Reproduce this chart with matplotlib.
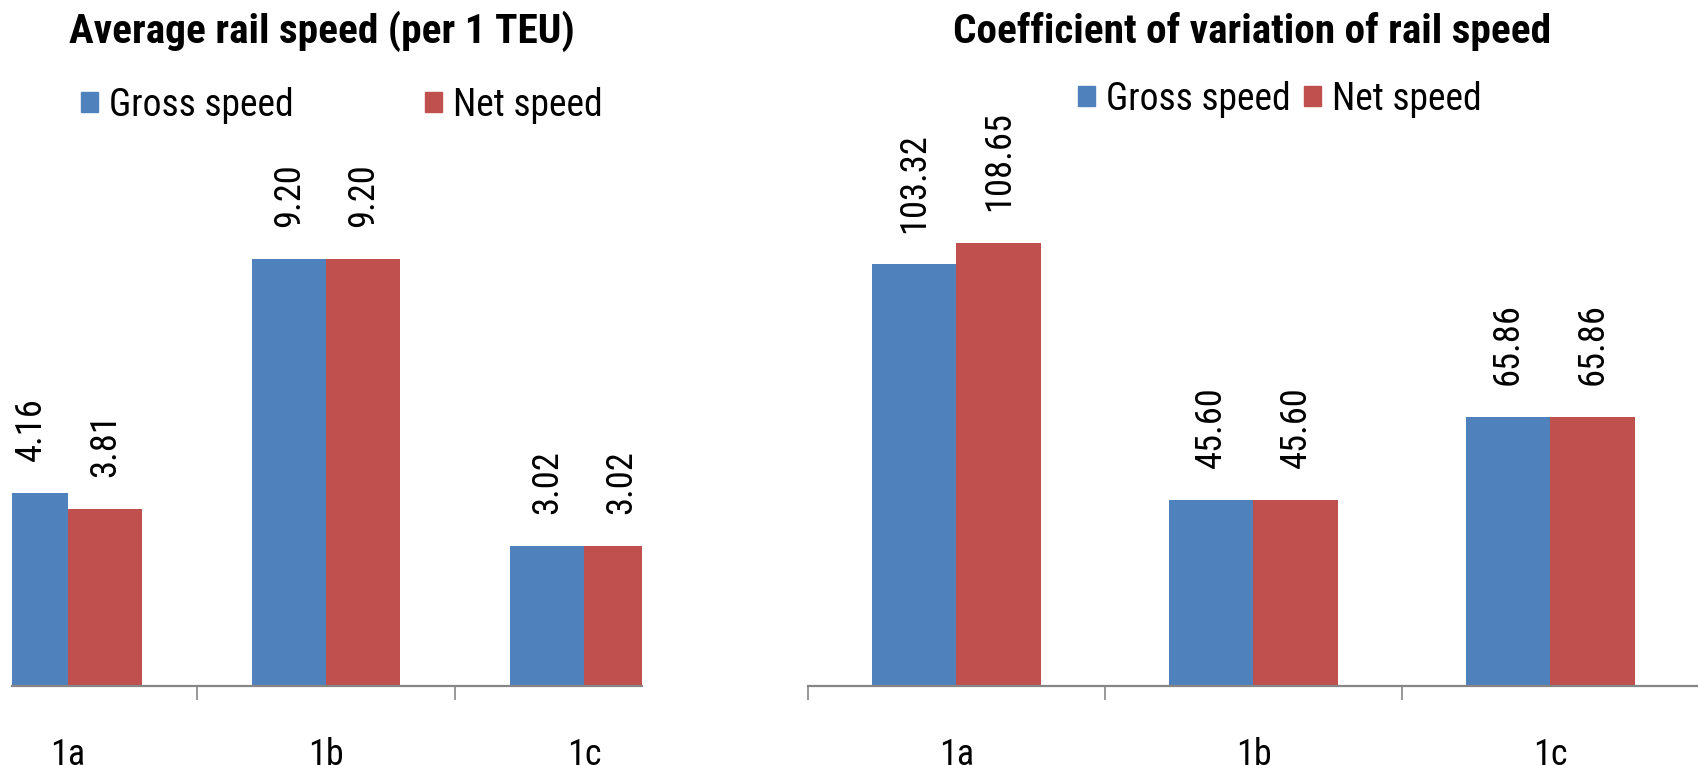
import matplotlib
matplotlib.use("Agg")
import matplotlib.pyplot as plt
from matplotlib.patches import Patch
import numpy as np

# ---- data ----
categories = ["1a", "1b", "1c"]
series_names = ["Gross speed", "Net speed"]
speed_gross = [4.16, 9.20, 3.02]
speed_net = [3.81, 9.20, 3.02]
cv_gross = [103.32, 45.60, 65.86]
cv_net = [108.65, 45.60, 65.86]
title_left = "Average rail speed (per 1 TEU)"
title_right = "Coefficient of variation of rail speed"

# ---- style ----
plt.rcParams["font.family"] = ["Roboto Condensed", "Liberation Sans", "DejaVu Sans"]

BLUE = "#4F81BD"
RED = "#C0504D"
AXC = "#868686"

W, H = 1699, 765
fig = plt.figure(figsize=(W / 100, H / 100), dpi=100)
renderer = fig.canvas.get_renderer()


def fit_size(samples, base=28, weight="normal"):
    """font size whose rendered widths best match target pixel widths"""
    ratios = []
    for s, target in samples:
        t = fig.text(0, 0, s, fontsize=base, fontweight=weight)
        w = t.get_window_extent(renderer).width
        t.remove()
        ratios.append(target / w)
    return base * float(np.mean(ratios))


FS_LAB = fit_size([("103.32", 98), ("9.20", 63), ("65.86", 84)])
FS_LEG = fit_size([("Gross speed", 184), ("Net speed", 150)])
FS_TIT = fit_size([(title_left, 504), (title_right, 598)], weight="bold")
FS_CAT = fit_size([("1a", 35)])


def px_axes(l, r, top, bottom):
    return fig.add_axes([l / W, 1 - bottom / H, (r - l) / W, (bottom - top) / H])


def draw(ax, g, n, xlim, ylim, minor):
    x = np.arange(len(categories))
    bw = 1 / 3.5
    b1 = ax.bar(x - bw / 2, g, bw, color=BLUE, linewidth=0)
    b2 = ax.bar(x + bw / 2, n, bw, color=RED, linewidth=0)
    for bars, vals in ((b1, g), (b2, n)):
        for rect, v in zip(bars, vals):
            ax.annotate(f"{v:.2f}", (rect.get_x() + rect.get_width() / 2, v),
                        xytext=(0, 23), textcoords="offset points",
                        rotation=90, ha="center", va="bottom", fontsize=FS_LAB,
                        annotation_clip=False)
    ax.set_xlim(*xlim)
    ax.set_ylim(*ylim)
    for s in ("top", "right", "left"):
        ax.spines[s].set_visible(False)
    ax.spines["bottom"].set_color(AXC)
    ax.spines["bottom"].set_linewidth(1.6)
    ax.set_yticks([])
    ax.set_xticks(x)
    ax.set_xticklabels(categories, fontsize=FS_CAT)
    ax.tick_params(axis="x", which="major", length=0, pad=37)
    ax.set_xticks(minor, minor=True)
    ax.tick_params(axis="x", which="minor", length=10, width=1.2, color=AXC)
    ax.patch.set_alpha(0)
    return b1, b2


# left chart
axL = px_axes(12, 642, 199, 686)
draw(axL, speed_gross, speed_net, ((12 - 68) / 258, (642 - 68) / 258), (0, 487 / 46.4), [0.5, 1.5])
# right chart
axR = px_axes(808, 1699, 196, 686)
draw(axR, cv_gross, cv_net, (-0.5, 2.5), (0, 490 / 4.08), [-0.5, 0.5, 1.5, 2.5])

fig.text(322 / W, 1 - 43 / H, title_left, ha="center", va="baseline", fontsize=FS_TIT, fontweight="bold")
fig.text(1252 / W, 1 - 43 / H, title_right, ha="center", va="baseline", fontsize=FS_TIT, fontweight="bold")

handles = [Patch(color=BLUE), Patch(color=RED)]
hl = 17 / (FS_LEG * 100 / 72)
fig.legend(handles, series_names, loc="center", bbox_to_anchor=(342 / W, 1 - 105 / H), ncol=2,
           frameon=False, fontsize=FS_LEG, handlelength=hl, handleheight=hl, handletextpad=0.3,
           columnspacing=3.5, borderpad=0, borderaxespad=0)
fig.legend(handles, series_names, loc="center", bbox_to_anchor=(1280 / W, 1 - 99 / H), ncol=2,
           frameon=False, fontsize=FS_LEG, handlelength=hl, handleheight=hl, handletextpad=0.3,
           columnspacing=0.35, borderpad=0, borderaxespad=0)

fig.savefig("out.png", dpi=100)
